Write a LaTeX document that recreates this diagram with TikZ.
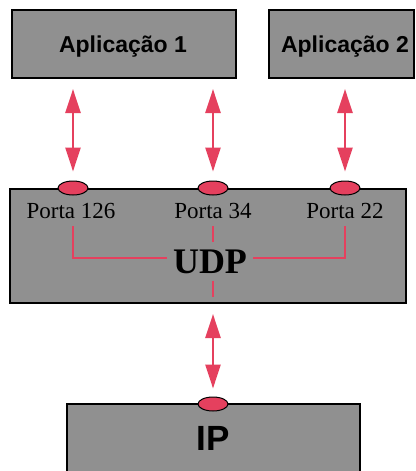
\documentclass[tikz,border=0pt]{standalone}
\usepackage{fontspec}
\setmainfont{Liberation Serif}
\newfontfamily\sansf{Liberation Sans}
\usetikzlibrary{arrows.meta,shapes.geometric}
\definecolor{boxgrey}{RGB}{144,144,144}
\definecolor{pred}{RGB}{229,64,94}
\begin{document}
\begin{tikzpicture}[x=1pt,y=-1pt,
  box/.style={draw=black,line width=2pt,fill=boxgrey,inner sep=0pt,rectangle},
  port/.style={ellipse,draw=black,line width=1pt,fill=pred,minimum width=30pt,minimum height=14pt,inner sep=0pt},
  arr/.style={draw=pred,line width=2.6pt,{Triangle[length=24pt,width=15pt]}-{Triangle[length=24pt,width=15pt]}},
  redline/.style={draw=pred,line width=2pt},
  applabel/.style={font=\sansf\bfseries\fontsize{23pt}{23pt}\selectfont,anchor=base,inner sep=0pt},
  portlabel/.style={font=\fontsize{23pt}{23pt}\selectfont,anchor=base,inner xsep=0pt,inner ysep=8pt},
]
\useasboundingbox (0,0) rectangle (415,471);
\clip (0,0) rectangle (415,471);
\fill[white] (0,0) rectangle (415,471);
% boxes
\node[box,minimum width=224pt,minimum height=68pt] (app1) at (124,44) {};
\node[box,minimum width=145pt,minimum height=68pt] (app2) at (341.5,44) {};
\node[box,minimum width=396pt,minimum height=114pt] (udpbox) at (208,246) {};
\node[box,minimum width=293pt,minimum height=86pt] (ipbox) at (213.5,447) {};
% labels
\node[applabel] (t1) at (123,52) {Aplicação 1};
\node[applabel] (t2) at (345,52) {Aplicação 2};
\node[applabel,font=\sansf\bfseries\fontsize{35pt}{35pt}\selectfont] (tip) at (213,450) {IP};
% ports
\node[port] (o1) at (73,188) {};
\node[port] (o2) at (213,188) {};
\node[port] (o3) at (345,188) {};
\node[port] (o4) at (213,404) {};
\node[portlabel] (p1) at (71,218) {Porta 126};
\node[portlabel] (p2) at (213,218) {Porta 34};
\node[portlabel] (p3) at (345,218) {Porta 22};
\node[font=\bfseries\fontsize{36pt}{36pt}\selectfont,anchor=base,fill=boxgrey,inner xsep=6pt,inner ysep=7pt] (udp) at (210,273) {UDP};
% red lines in UDP
\draw[redline] (p1.south -| o1) |- ([yshift=3pt]udp.west);
\draw[redline] (p3.south -| o3) |- ([yshift=3pt]udp.east);
\draw[redline] (p2.south -| o2) -- (o2 |- udp.north);
\coordinate (udpend) at (213,297);
\draw[redline] (o2 |- udp.south) -- (udpend);
% arrows
\draw[arr,shorten <=10pt,shorten >=9pt] (o1 |- app1.south) -- (o1.north);
\draw[arr,shorten <=10pt,shorten >=9pt] (o2 |- app1.south) -- (o2.north);
\draw[arr,shorten <=10pt,shorten >=9pt] (o3 |- app2.south) -- (o3.north);
\draw[arr,shorten <=10pt,shorten >=8pt] (o4 |- udpbox.south) -- (o4.north);
\end{tikzpicture}
\end{document}
